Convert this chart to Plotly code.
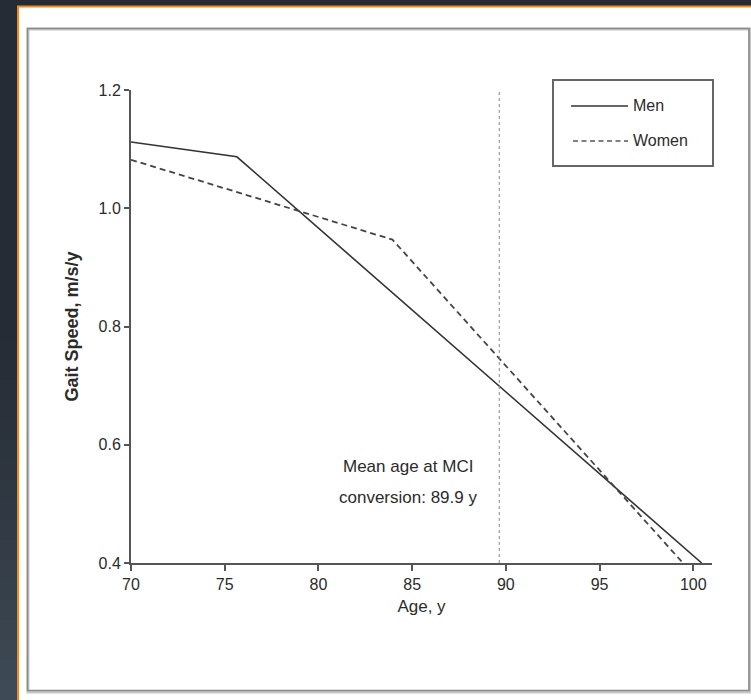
import plotly.graph_objects as go

# ---- data ----
series_names = ["Men", "Women"]
men_age = [70, 75.65, 100.45]
men_speed = [1.112, 1.087, 0.40]
women_age = [70, 83.95, 99.45]
women_speed = [1.082, 0.947, 0.40]
mci_line_age = 89.65
annotation_lines = ["Mean age at MCI", "conversion: 89.9 y"]
x_ticks = [70, 75, 80, 85, 90, 95, 100]
y_ticks = [0.4, 0.6, 0.8, 1.0, 1.2]
y_tick_text = ["0.4", "0.6", "0.8", "1.0", "1.2"]

W, H = 751, 700
L, R, T, B = 131, 39, 90, 137
PW, PH = W - L - R, H - T - B
FONT = "Liberation Sans Narrow, Arial Narrow, Liberation Sans, sans-serif"
TXT = "#2b2b2b"


def px(x):
    return (x - L) / PW


def py(y):
    return (H - B - y) / PH


fig = go.Figure()
fig.add_trace(go.Scatter(x=men_age, y=men_speed, mode="lines", name=series_names[0],
                         line=dict(color="#333333", width=1.6), showlegend=False))
fig.add_trace(go.Scatter(x=women_age, y=women_speed, mode="lines", name=series_names[1],
                         line=dict(color="#444444", width=1.8, dash="6px,4px"), showlegend=False))

shapes = []
# smooth-ish vertical gradient of the dark slide background
top_rgb, bot_rgb = (38, 44, 53), (62, 74, 86)
nb = 35
for i in range(nb):
    t = max(0.0, (i / (nb - 1) - 0.45) / 0.55) ** 1.3
    c = tuple(int(round(a + (b - a) * t)) for a, b in zip(top_rgb, bot_rgb))
    shapes.append(dict(type="rect", xref="paper", yref="paper", layer="below",
                       x0=px(-5), x1=px(W + 5), y0=py(H * (i + 1) / nb + 1), y1=py(H * i / nb),
                       fillcolor="rgb(%d,%d,%d)" % c, line=dict(width=0)))
# orange border + white panel
shapes.append(dict(type="rect", xref="paper", yref="paper", layer="below",
                   x0=px(17), x1=px(W + 5), y0=py(H + 5), y1=py(5.5),
                   fillcolor="#f08a1c", line=dict(width=0)))
shapes.append(dict(type="rect", xref="paper", yref="paper", layer="below",
                   x0=px(19), x1=px(W + 5), y0=py(H + 5), y1=py(7.5),
                   fillcolor="white", line=dict(width=0)))
# inner gray frame (with slight shadow)
shapes.append(dict(type="rect", xref="paper", yref="paper", layer="below",
                   x0=px(28), x1=px(750), y0=py(692), y1=py(29),
                   fillcolor="rgba(0,0,0,0)", line=dict(color="#c8c8c8", width=3)))
shapes.append(dict(type="rect", xref="paper", yref="paper", layer="below",
                   x0=px(27.5), x1=px(749), y0=py(690.5), y1=py(28.5),
                   fillcolor="rgba(0,0,0,0)", line=dict(color="#8a8a8a", width=1.6)))
# vertical dotted reference line
shapes.append(dict(type="line", xref="x", yref="y", x0=mci_line_age, x1=mci_line_age,
                   y0=0.4, y1=1.197, line=dict(color="#888888", width=1, dash="dot")))
# legend box
shapes.append(dict(type="rect", xref="paper", yref="paper",
                   x0=px(553), x1=px(713), y0=py(166), y1=py(80),
                   fillcolor="white", line=dict(color="#666666", width=2)))
shapes.append(dict(type="line", xref="paper", yref="paper",
                   x0=px(571), x1=px(628), y0=py(106), y1=py(106),
                   line=dict(color="#333333", width=1.6)))
shapes.append(dict(type="line", xref="paper", yref="paper",
                   x0=px(573), x1=px(628), y0=py(141), y1=py(141),
                   line=dict(color="#555555", width=1.5, dash="5px,3.5px")))

annotations = []
for i, name in enumerate(series_names):
    annotations.append(dict(xref="paper", yref="paper", x=px(631), y=py(105 + 35 * i),
                            text=name, showarrow=False, xanchor="left", yanchor="middle",
                            font=dict(family=FONT, size=16, color=TXT)))
for i, line in enumerate(annotation_lines):
    annotations.append(dict(xref="paper", yref="paper", x=px(408), y=py(466 + 31 * i),
                            text=line, showarrow=False, xanchor="center", yanchor="middle",
                            font=dict(family=FONT, size=17, color=TXT)))

fig.update_layout(
    width=W, height=H,
    margin=dict(l=L, r=R, t=T, b=B, pad=0),
    paper_bgcolor="#262c35", plot_bgcolor="white",
    shapes=shapes, annotations=annotations,
    showlegend=False,
    font=dict(family=FONT, size=16, color=TXT),
    xaxis=dict(range=[70, 101.0], tickvals=x_ticks, ticks="outside", ticklen=6, tickwidth=2,
               tickcolor="#555555", showline=True, linecolor="#555555", linewidth=2,
               showgrid=False, zeroline=False, tickfont=dict(family=FONT, size=16, color=TXT),
               title=dict(text="Age, y", font=dict(family=FONT, size=17, color=TXT), standoff=8)),
    yaxis=dict(range=[0.4, 1.2], tickvals=y_ticks, ticktext=y_tick_text, ticks="outside",
               ticklen=5, tickwidth=2, tickcolor="#555555", showline=True, linecolor="#555555",
               linewidth=2, showgrid=False, zeroline=False,
               tickfont=dict(family=FONT, size=16, color=TXT),
               title=dict(text="<b>Gait Speed, m/s/y</b>", font=dict(family=FONT, size=18, color=TXT),
                          standoff=15)),
)

fig.write_html("out.html", config={"displayModeBar": False},
               post_script="document.body.style.margin='0';document.body.style.overflow='hidden';")
